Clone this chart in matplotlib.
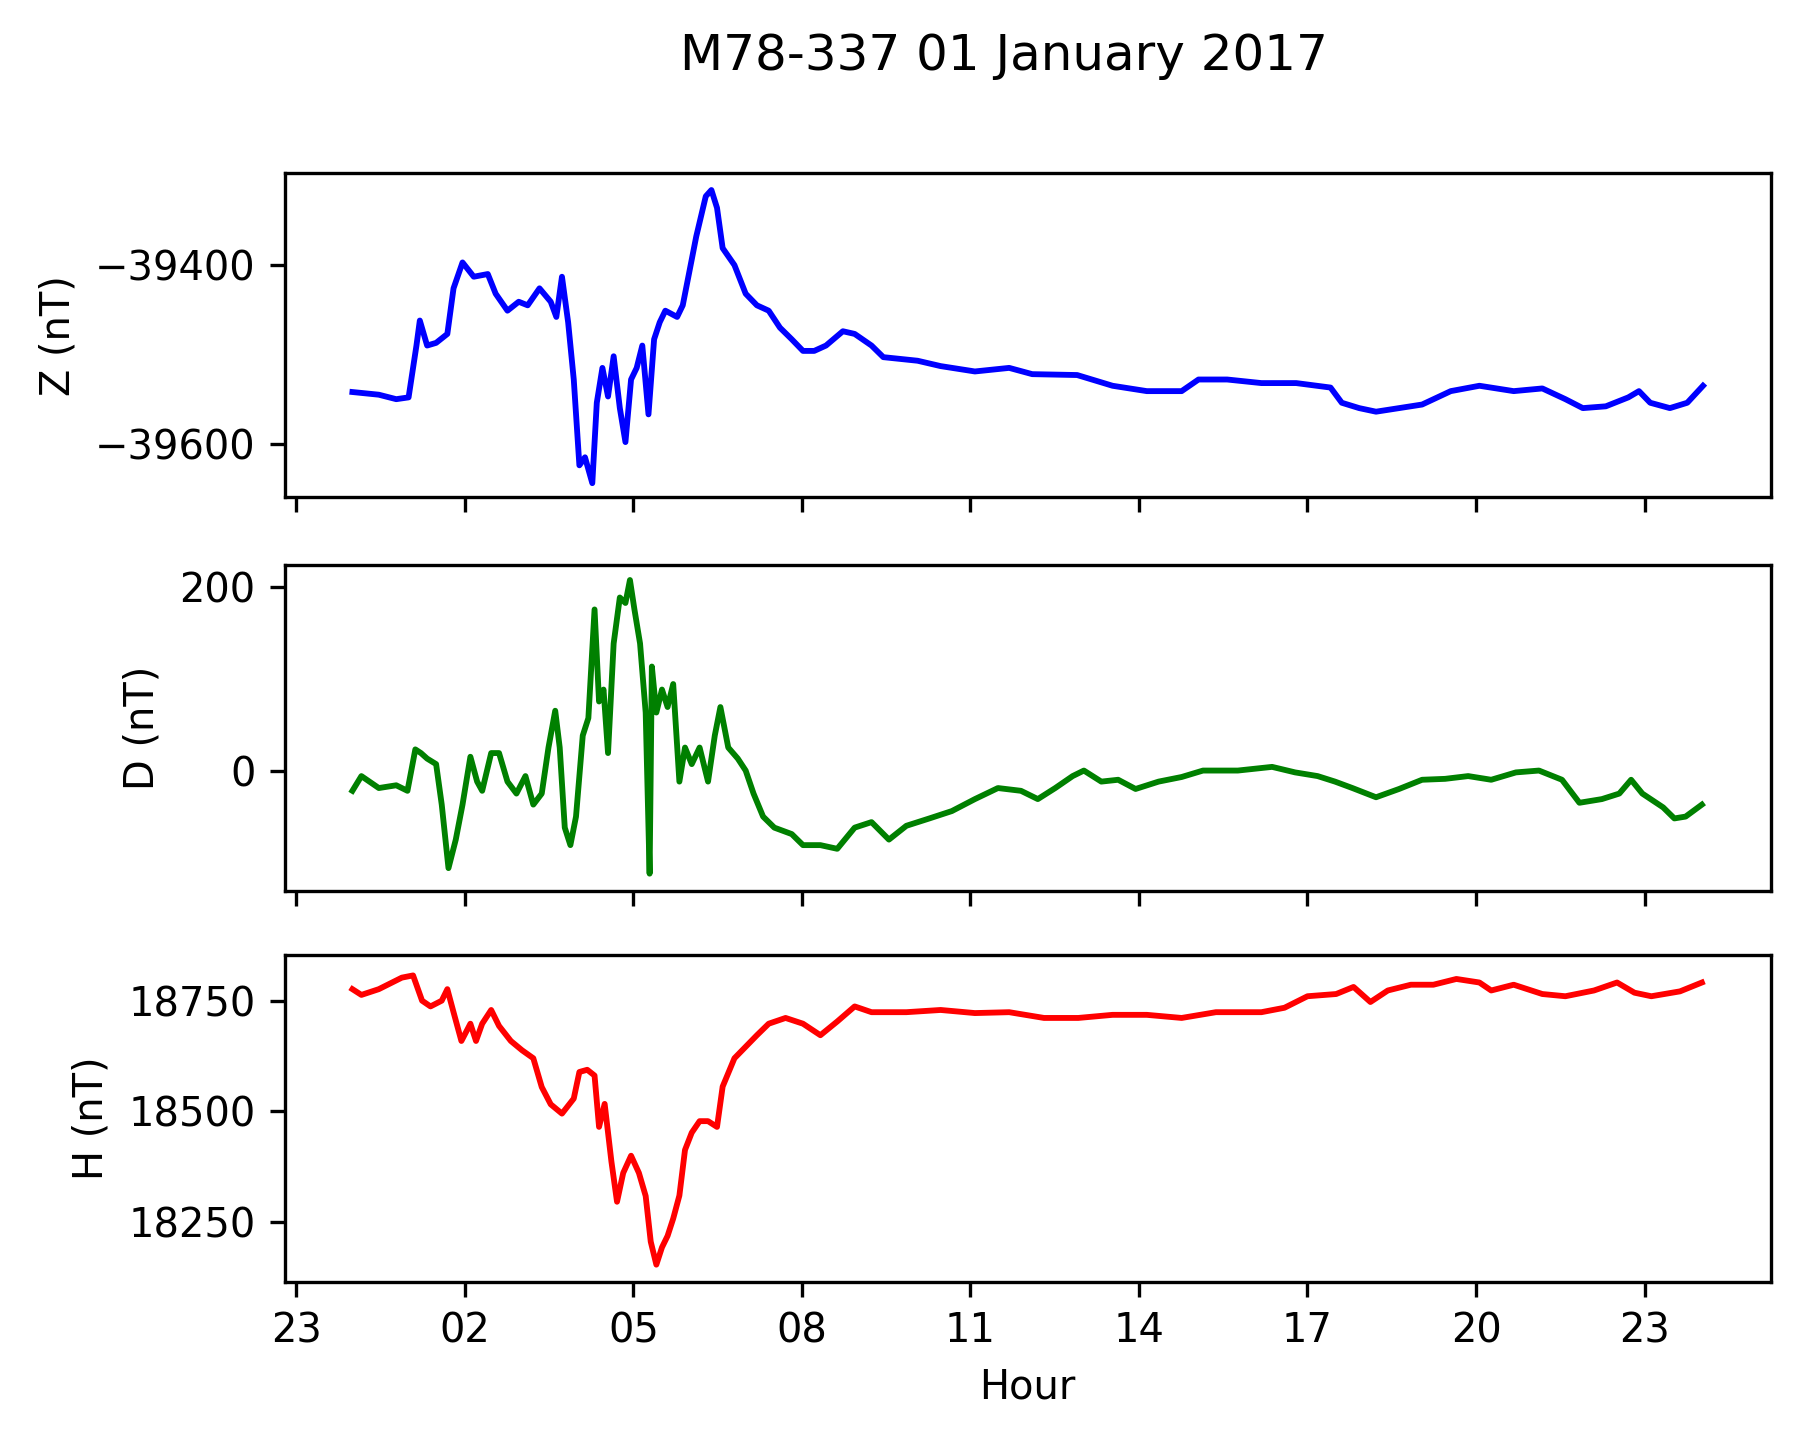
import matplotlib
matplotlib.use("Agg")
import matplotlib.pyplot as plt
import matplotlib.dates as mdates
from matplotlib.ticker import MultipleLocator
from datetime import datetime, timedelta

z_hours = [0,0.47,0.78,1.0,1.14,1.2,1.33,1.49,1.69,1.8,1.96,2.16,2.41,2.55,2.76,2.96,3.12,3.33,3.53,3.63,3.73,3.84,3.94,4.04,4.14,4.27,4.35,4.45,4.55,4.65,4.76,4.86,4.96,5.06,5.16,5.27,5.37,5.47,5.57,5.78,5.88,5.98,6.12,6.29,6.39,6.49,6.59,6.8,7.0,7.2,7.41,7.61,7.82,8.02,8.22,8.43,8.73,8.94,9.24,9.45,10.06,10.47,11.08,11.69,12.1,12.9,13.53,14.14,14.76,15.06,15.57,16.18,16.8,17.41,17.61,17.92,18.22,19.04,19.55,20.06,20.67,21.18,21.59,21.9,22.31,22.71,22.9,23.1,23.45,23.76,24.04]
z_vals = [-39542,-39545,-39550,-39548,-39490,-39462,-39490,-39487,-39477,-39426,-39397,-39413,-39410,-39432,-39451,-39441,-39445,-39426,-39441,-39458,-39413,-39464,-39528,-39624,-39615,-39644,-39554,-39515,-39547,-39502,-39560,-39598,-39528,-39515,-39490,-39567,-39483,-39464,-39451,-39458,-39445,-39413,-39368,-39323,-39316,-39336,-39381,-39400,-39432,-39445,-39451,-39470,-39483,-39496,-39496,-39490,-39474,-39477,-39490,-39503,-39507,-39513,-39519,-39515,-39522,-39523,-39535,-39541,-39541,-39528,-39528,-39532,-39532,-39537,-39554,-39560,-39564,-39556,-39541,-39535,-39541,-39538,-39550,-39560,-39558,-39548,-39541,-39554,-39560,-39554,-39535]

d_hours = [0,0.16,0.47,0.78,0.98,1.12,1.22,1.33,1.49,1.59,1.71,1.84,1.96,2.1,2.22,2.31,2.47,2.61,2.76,2.92,3.08,3.22,3.37,3.49,3.61,3.69,3.78,3.88,3.98,4.1,4.2,4.31,4.39,4.47,4.55,4.65,4.76,4.86,4.94,5.02,5.12,5.22,5.29,5.33,5.41,5.51,5.61,5.71,5.82,5.92,6.04,6.18,6.33,6.45,6.55,6.69,6.86,7.0,7.14,7.31,7.51,7.82,8.02,8.33,8.63,8.94,9.24,9.55,9.86,10.27,10.67,11.08,11.49,11.9,12.2,12.51,12.82,13.02,13.33,13.63,13.94,14.35,14.76,15.14,15.76,16.37,16.78,17.18,17.49,17.8,18.22,18.63,19.04,19.45,19.86,20.27,20.71,21.12,21.53,21.84,22.24,22.55,22.76,22.96,23.33,23.53,23.73,24.02]
d_vals = [-21,-5,-18,-15,-21,24,20,14,8,-36,-105,-74,-36,16,-11,-21,20,20,-11,-24,-5,-36,-24,26,66,26,-61,-80,-49,39,58,176,76,89,20,139,189,183,208,176,139,64,-111,114,64,89,70,95,-11,26,8,26,-11,39,70,26,14,1,-24,-49,-61,-68,-80,-80,-84,-61,-55,-74,-59,-51,-43,-30,-18,-21,-30,-18,-5,1,-11,-9,-19,-11,-6,1,1,5,-1,-5,-11,-18,-28,-19,-9,-8,-5,-9,-1,1,-9,-34,-30,-24,-9,-24,-39,-51,-49,-36]

h_hours = [0,0.16,0.47,0.88,1.08,1.24,1.39,1.59,1.69,1.8,1.94,2.1,2.2,2.31,2.47,2.61,2.82,3.02,3.22,3.37,3.53,3.73,3.94,4.04,4.18,4.31,4.39,4.49,4.61,4.71,4.82,4.96,5.1,5.22,5.31,5.41,5.51,5.61,5.71,5.82,5.92,6.04,6.18,6.33,6.49,6.59,6.8,7.0,7.2,7.41,7.71,8.02,8.33,8.63,8.94,9.24,9.86,10.47,11.08,11.69,12.31,12.92,13.53,14.14,14.76,15.37,16.18,16.59,17.0,17.51,17.82,18.12,18.43,18.84,19.24,19.65,20.06,20.27,20.67,21.18,21.59,22.1,22.51,22.82,23.12,23.63,24.02]
h_vals = [18776,18763,18776,18802,18807,18750,18737,18750,18776,18724,18659,18698,18659,18698,18729,18693,18659,18638,18620,18555,18516,18495,18529,18589,18594,18581,18465,18517,18387,18296,18361,18400,18361,18309,18206,18154,18193,18219,18258,18310,18413,18452,18478,18478,18465,18556,18620,18646,18672,18698,18711,18698,18672,18703,18737,18724,18724,18729,18722,18724,18711,18711,18718,18718,18711,18724,18724,18734,18760,18765,18781,18747,18773,18786,18786,18799,18791,18773,18786,18765,18760,18773,18791,18768,18760,18771,18791]

start = datetime(2017, 1, 1)
def to_t(hs):
    return [start + timedelta(hours=h) for h in hs]

plt.rcParams['font.size'] = 9.6
fig = plt.figure(figsize=(1803/300, 1442/300), dpi=300)
L, W = 0.158, 0.824
axz = fig.add_axes([L, 0.655, W, 0.225])
axd = fig.add_axes([L, 0.382, W, 0.226], sharex=axz)
axh = fig.add_axes([L, 0.111, W, 0.227], sharex=axz)

axz.plot(to_t(z_hours), z_vals, color='blue', lw=1.4)
axd.plot(to_t(d_hours), d_vals, color='green', lw=1.4)
axh.plot(to_t(h_hours), h_vals, color='red', lw=1.4)

axz.set_ylim(-39660, -39297)
axd.set_ylim(-130, 224)
axh.set_ylim(18115, 18854)
axz.yaxis.set_major_locator(MultipleLocator(200))
axd.yaxis.set_major_locator(MultipleLocator(200))
axh.yaxis.set_major_locator(MultipleLocator(250))
axz.set_ylabel('Z (nT)')
axd.set_ylabel('D (nT)')
axh.set_ylabel('H (nT)')
axh.set_xlabel('Hour')
axh.xaxis.set_major_locator(mdates.HourLocator(byhour=range(2, 24, 3)))
axh.xaxis.set_major_formatter(mdates.DateFormatter('%H'))
for a in (axz, axd):
    plt.setp(a.get_xticklabels(), visible=False)
fig.suptitle('M78-337 01 January 2017', x=0.557, y=0.978, fontsize=12)
fig.savefig('out.png', dpi=300)
